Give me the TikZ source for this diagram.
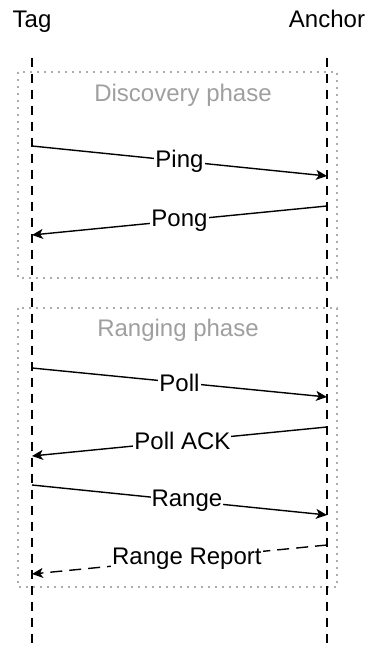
\documentclass[tikz,border=0pt]{standalone}
\usepackage{fontspec}
\setmainfont{Liberation Sans}
\usetikzlibrary{arrows.meta}

\begin{document}
\begin{tikzpicture}[x=1pt,y=-1pt]
\tikzstyle{every node}+=[inner sep=1pt,font=\fontsize{24}{28}\selectfont]
\tikzstyle{lifeline}=[black,line width=2.8pt,dash pattern=on 9pt off 7pt]
\tikzstyle{phasebox}=[gray!65,line width=2.4pt,dash pattern=on 2.4pt off 4.6pt]
\tikzstyle{phasetext}=[gray!75]
\tikzstyle{msg}=[black,line width=1.4pt,-{Stealth[length=11pt,width=10pt,inset=3pt]}]
\tikzstyle{msglabel}=[fill=white,text=black]
\useasboundingbox (0,0) rectangle (366,651);
% actors
\node[anchor=base] (tag) at (32,27) {Tag};
\node[anchor=base] (anchor) at (327,27) {Anchor};
% phase frames
\draw [phasebox] (18,72) rectangle (337,278);
\node[phasetext] (discovery) at (183,95) {Discovery phase};
\draw [phasebox] (18,308) rectangle (337,587);
\node[phasetext] (ranging) at (178,330) {Ranging phase};
% lifelines
\coordinate (tagtop) at (32,58);
\coordinate (tagbot) at (32,648);
\coordinate (anctop) at (327,58);
\coordinate (ancbot) at (327,648);
\draw [lifeline] (tagtop) -- (tagbot);
\draw [lifeline] (anctop) -- (ancbot);
% message end points on the lifelines
\coordinate (t1) at (32,146);
\coordinate (a1) at (327,176);
\coordinate (a2) at (327,206);
\coordinate (t2) at (32,235);
\coordinate (t3) at (32,368);
\coordinate (a3) at (327,397);
\coordinate (a4) at (327,427);
\coordinate (t4) at (32,456);
\coordinate (t5) at (32,485);
\coordinate (a5) at (327,515);
\coordinate (a6) at (327,545);
\coordinate (t6) at (32,574);
% messages
\draw [msg] (t1) -- (a1) node[msglabel,pos=0.5] (ping) {Ping};
\draw [msg] (a2) -- (t2) node[msglabel,pos=0.5] (pong) {Pong};
\draw [msg] (t3) -- (a3) node[msglabel,pos=0.5] (poll) {Poll};
\draw [msg] (a4) -- (t4) node[msglabel,pos=0.49] (pollack) {Poll ACK};
\draw [msg] (t5) -- (a5) node[msglabel,pos=0.525] (range) {Range};
\draw [msg,dash pattern=on 12pt off 7pt] (a6) -- (t6) node[msglabel,pos=0.475] (report) {Range Report};
\end{tikzpicture}
\end{document}
